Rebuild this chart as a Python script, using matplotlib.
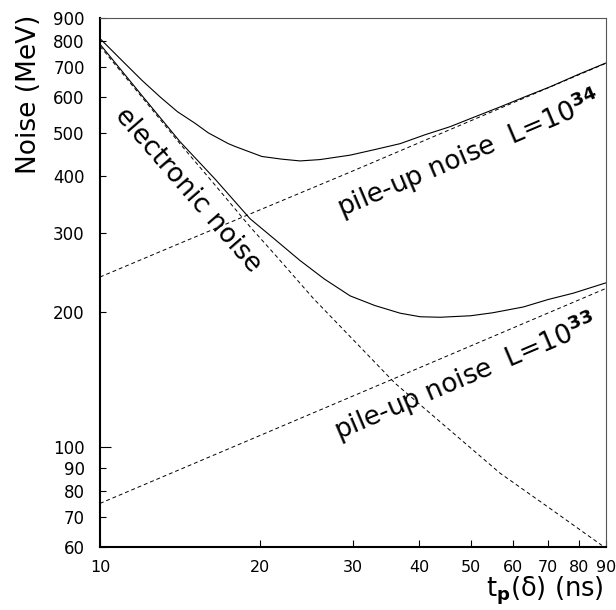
import matplotlib
matplotlib.use("Agg")
import matplotlib.pyplot as plt
from matplotlib.ticker import FixedLocator, FixedFormatter, NullFormatter

# values (t in ns, noise in MeV)
t_elec = [10, 12, 14.15, 16.5, 19.19, 21.5, 25.27, 30, 36.02, 45, 56.85, 70, 88.4]
elec_noise = [779, 600, 473, 382, 309, 266, 214, 173.5, 138.7, 110.8, 87.5, 73.6, 60.5]

t_pu34 = [10, 14.15, 29.21, 90]
pu34_noise = [239, 284, 406, 714]

t_pu33 = [10, 35.5, 90]
pu33_noise = [75, 141.4, 225.5]

t_tot34 = [10, 11, 12, 13, 14, 15.11, 16, 17.46, 18, 20.19, 22, 23.84, 26,
           29.63, 33, 36.81, 41, 45.74, 50, 56.85, 63, 70.65, 80, 90]
tot34_noise = [810, 724, 654, 600, 557, 525, 500, 473, 466, 443, 437, 433, 436,
               446, 459, 473, 495, 516, 538, 571, 600, 633, 675, 715]

t_tot33 = [10, 12, 14.15, 16.5, 19.19, 21.5, 23.84, 26.5, 29.63, 33, 36.81,
           40.16, 43.8, 50, 55, 62.84, 70, 78.06, 90]
tot33_noise = [787, 605, 478, 394, 322, 288, 260, 236.5, 217, 206.5, 198.6,
               195, 194.5, 196, 199, 205, 213, 220, 232]

y_major = [100]
y_minor = [60, 70, 80, 90, 200, 300, 400, 500, 600, 700, 800, 900]
x_ticks = [10, 20, 30, 40, 50, 60, 70, 80, 90]

fig = plt.figure(figsize=(6.16, 6.10), dpi=100)
ax = fig.add_axes([100/616, 1-547/610, 506/616, 529/610])

dash = (0, (4, 3))
ax.plot(t_tot34, tot34_noise, color='black', lw=0.8)
ax.plot(t_tot33, tot33_noise, color='black', lw=0.8)
ax.plot(t_elec, elec_noise, color='black', lw=0.7, linestyle=dash)
ax.plot(t_pu34, pu34_noise, color='black', lw=0.7, linestyle=dash)
ax.plot(t_pu33, pu33_noise, color='black', lw=0.7, linestyle=dash)

ax.set_xscale('log')
ax.set_yscale('log')
ax.set_xlim(10, 90)
ax.set_ylim(60, 900)

ax.xaxis.set_major_locator(FixedLocator(x_ticks))
ax.xaxis.set_major_formatter(FixedFormatter([str(v) for v in x_ticks]))
ax.xaxis.set_minor_locator(FixedLocator([]))
ax.xaxis.set_minor_formatter(NullFormatter())

ax.yaxis.set_major_locator(FixedLocator(y_major))
ax.yaxis.set_major_formatter(FixedFormatter([str(v) for v in y_major]))
ax.yaxis.set_minor_locator(FixedLocator(y_minor))
ax.yaxis.set_minor_formatter(FixedFormatter([str(v) for v in y_minor]))

ax.tick_params(axis='x', which='major', direction='in', length=5, width=0.8,
               labelsize=11.5, pad=9.5, top=False)
ax.tick_params(axis='y', which='major', direction='in', length=8, width=0.8,
               labelsize=12, pad=11, right=False)
ax.tick_params(axis='y', which='minor', direction='in', length=4.3, width=0.8,
               labelsize=12, pad=11, right=False)

for s in ['left', 'bottom']:
    ax.spines[s].set_linewidth(1.5)
for s in ['top', 'right']:
    ax.spines[s].set_linewidth(0.8)
    ax.spines[s].set_color('#555555')

ax.text(14.65, 373, 'electronic noise', fontsize=19, rotation=-49,
        ha='center', va='center', rotation_mode='anchor')
ax.text(49.5, 450, r'pile-up noise  L=10$^{\mathbf{34}}$', fontsize=19,
        rotation=23, ha='center', va='center', rotation_mode='anchor')
ax.text(48.8, 143.2, r'pile-up noise  L=10$^{\mathbf{33}}$', fontsize=19,
        rotation=23, ha='center', va='center', rotation_mode='anchor')

fig.text(29/616, 1-15/610, 'Noise (MeV)', fontsize=19, rotation=90,
         ha='center', va='top')
fig.text(604/616, 3/610, r't$_{\mathbf{p}}$(δ) (ns)', fontsize=18.5,
         ha='right', va='bottom')

fig.savefig('out.png', dpi=100)
